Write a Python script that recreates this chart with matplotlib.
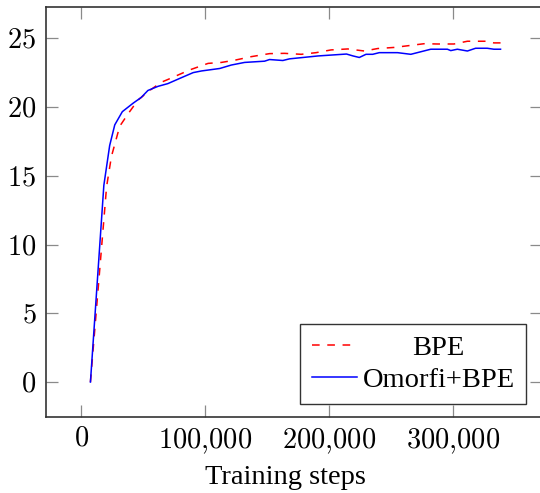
import matplotlib
matplotlib.use("Agg")
import matplotlib.pyplot as plt
from matplotlib.ticker import FuncFormatter

# ---- data ----
bpe_steps = [7500, 20500, 24400, 31100, 37800, 45800, 55200, 64600, 69900, 87600,
             97000, 102300, 113000, 123700, 137100, 151800, 163900, 177300, 189300,
             201400, 214800, 228200, 238900, 252200, 263000, 276300, 287100, 300400,
             311200, 319200, 327200, 332500, 337900]
bpe_bleu = [0.0, 14.2, 16.4, 18.6, 19.5, 20.5, 21.2, 21.8, 22.0, 22.7,
            23.0, 23.17, 23.24, 23.4, 23.66, 23.88, 23.9, 23.83, 23.95,
            24.15, 24.22, 24.07, 24.25, 24.33, 24.45, 24.6, 24.58, 24.58,
            24.78, 24.78, 24.78, 24.66, 24.66]

omorfi_steps = [7500, 18300, 23000, 27100, 33200, 41800, 48500, 53800, 61900, 69900,
                80000, 90300, 97000, 111700, 121000, 131700, 147800, 151800, 162500,
                167900, 185300, 190700, 213800, 219100, 224100, 229500, 234900, 240200,
                254900, 265600, 281700, 295100, 297800, 303100, 311200, 317800, 327200,
                332500, 337900]
omorfi_bleu = [0.0, 14.3, 17.2, 18.7, 19.66, 20.27, 20.7, 21.2, 21.5, 21.7,
               22.1, 22.5, 22.62, 22.8, 23.05, 23.24, 23.33, 23.45, 23.38,
               23.5, 23.66, 23.71, 23.85, 23.71, 23.6, 23.83, 23.83, 23.95,
               23.95, 23.83, 24.2, 24.2, 24.1, 24.2, 24.07, 24.27, 24.27,
               24.2, 24.2]

series_labels = ["BPE", "Omorfi+BPE"]
x_label = "Training steps"
x_ticks = [0, 100000, 200000, 300000]
y_ticks = [0, 5, 10, 15, 20, 25]

# ---- style ----
plt.rcParams["mathtext.fontset"] = "cm"
plt.rcParams["font.family"] = ["Liberation Serif", "DejaVu Serif"]
FS = 20.5

W, H = 540, 493
fig = plt.figure(figsize=(W / 100, H / 100), dpi=100)
left_px, right_px, top_px, bottom_px = 46, 542, 7, 416.7
ax = fig.add_axes([left_px / W, 1 - bottom_px / H,
                   (right_px - left_px) / W, (bottom_px - top_px) / H])

ax.plot(bpe_steps, bpe_bleu, color="#ff0000", lw=1.1, ls=(0, (5, 5)),
        label=series_labels[0])
ax.plot(omorfi_steps, omorfi_bleu, color="#0000ff", lw=1.1,
        label=series_labels[1])

ax.set_xlim(-28300, 371300)
ax.set_ylim(-2.52, 27.27)
ax.set_xticks(x_ticks)
ax.set_yticks(y_ticks)
ax.xaxis.set_major_formatter(FuncFormatter(
    lambda v, p: r"$%s$" % format(int(v), ",").replace(",", "{,}")))
ax.yaxis.set_major_formatter(FuncFormatter(lambda v, p: r"$%d$" % int(v)))

ax.tick_params(axis="both", which="both", direction="in", length=8.5,
               width=0.9, color="#8a8a8a", labelsize=FS, top=True,
               right=True, pad=7)
for s in ax.spines.values():
    s.set_linewidth(1.2)
    s.set_color("#333333")

ax.set_xlabel(x_label, fontsize=FS)
ax.xaxis.set_label_coords((285 - left_px) / (right_px - left_px),
                          -(478 - bottom_px) / (bottom_px - top_px))
ax.xaxis.label.set_va("center")

leg = ax.legend(loc="lower right", bbox_to_anchor=(526 / W, 1 - 404 / H),
                bbox_transform=fig.transFigure, borderaxespad=0,
                fontsize=FS, frameon=True, fancybox=False,
                handlelength=1.58, handletextpad=0.21, borderpad=0.4,
                labelspacing=0.2)
leg.get_frame().set_edgecolor("#333333")
leg.get_frame().set_linewidth(1.0)
leg.get_frame().set_alpha(1)

# center-align legend text like pgfplots
fig.canvas.draw()
r = fig.canvas.get_renderer()
texts = leg.get_texts()
widths = [t.get_window_extent(r).width for t in texts]
mw = max(widths)
for t, w in zip(texts, widths):
    t.set_position(((mw - w) / 2, 0))

fig.savefig("out.png", dpi=100)
